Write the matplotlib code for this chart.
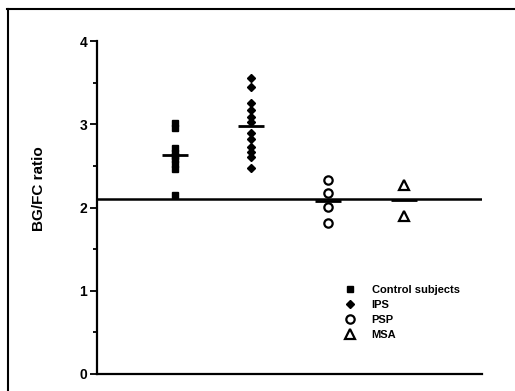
import matplotlib.pyplot as plt
import numpy as np
from matplotlib.lines import Line2D

# values
groups = ["Control subjects", "IPS", "PSP", "MSA"]
control = [3.02, 2.95, 2.72, 2.66, 2.62, 2.58, 2.52, 2.46, 2.15]
ips = [3.56, 3.45, 3.25, 3.17, 3.09, 3.03, 2.90, 2.82, 2.73, 2.67, 2.61, 2.48]
psp = [2.33, 2.17, 2.01, 1.81]
msa = [2.27, 1.90]
cutoff = 2.1

plt.rcParams['font.family'] = 'Liberation Sans'
plt.rcParams['font.weight'] = 'bold'

fig = plt.figure(figsize=(5.15, 3.91), dpi=100)
ax = fig.add_axes([0.188, 0.0435, 0.748, 0.8515])

# cutoff line
ax.axhline(cutoff, color='k', lw=1.8, zorder=1)

ax.plot([1] * len(control), control, 's', color='k', ms=4.5, ls='none', label=groups[0])
ax.plot([2] * len(ips), ips, 'D', color='k', ms=3.8, ls='none', label=groups[1])
ax.plot([3] * len(psp), psp, 'o', mfc='white', mec='k', mew=1.6, ms=6, ls='none', label=groups[2])
ax.plot([4] * len(msa), msa, '^', mfc='white', mec='k', mew=1.6, ms=7.5, ls='none', label=groups[3])

# group means
for x, vals in zip([1, 2, 3, 4], [control, ips, psp, msa]):
    ax.plot(x, np.mean(vals), '_', color='k', ms=19, mew=2)

ax.set_xlim(-0.02, 5.02)
ax.set_ylim(0, 4)
ax.set_yticks([0, 1, 2, 3, 4])
ax.set_yticks(np.arange(0.5, 4, 1), minor=True)
ax.set_xticks([])
ax.tick_params(axis='y', which='major', length=5, width=1.3, labelsize=10, pad=2)
ax.tick_params(axis='y', which='minor', length=3, width=1.3)
for lab in ax.get_yticklabels():
    lab.set_fontweight('bold')
for s in ['top', 'right']:
    ax.spines[s].set_visible(False)
for s in ['left', 'bottom']:
    ax.spines[s].set_linewidth(1.6)

ax.set_ylabel("BG/FC ratio", fontsize=11, fontweight='bold')
ax.yaxis.set_label_coords(-0.132, 0.558)

leg = ax.legend(loc='upper left', bbox_to_anchor=(0.63, 0.28), frameon=False,
                fontsize=8, handletextpad=1.5, labelspacing=0.45,
                handlelength=1.0, borderaxespad=0)

# outer frame of the scanned figure
fig.add_artist(Line2D([8 / 515, 8 / 515], [0, 1 - 9 / 391], transform=fig.transFigure, color='k', lw=1.5))
fig.add_artist(Line2D([7 / 515, 1], [1 - 9 / 391, 1 - 9 / 391], transform=fig.transFigure, color='k', lw=1.5))

fig.savefig("out.png", dpi=100)
